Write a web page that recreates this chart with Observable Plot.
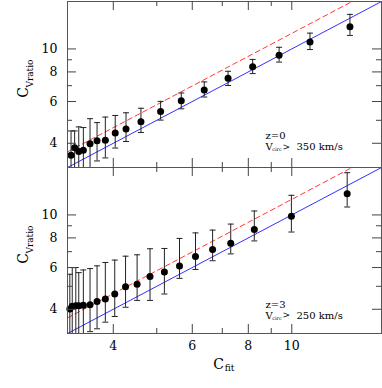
<!DOCTYPE html>
<html><head><meta charset="utf-8">
<script src="https://cdn.jsdelivr.net/npm/d3@7"></script>
<script src="https://cdn.jsdelivr.net/npm/@observablehq/plot@0.6"></script>
<style>html,body{margin:0;padding:0;background:#fff;} svg{display:block;}</style>
</head><body><div id="chart"></div>
<script>
const panels = ["z=0", "z=3"];
const xDomain = [3.162, 15.85];
const yDomain = [3.162, 15.85];
const majorTicks = [4, 6, 8, 10];
const minorTicks = [5, 7, 9];

// z=0 panel
const x0 = [3.22, 3.28, 3.35, 3.43, 3.55, 3.68, 3.84, 4.04, 4.27, 4.61, 5.10, 5.67, 6.38, 7.21, 8.18, 9.37, 10.98, 13.48];
const y0 = [3.56, 3.83, 3.69, 3.74, 3.98, 4.10, 4.12, 4.42, 4.59, 4.93, 5.45, 6.04, 6.71, 7.53, 8.41, 9.41, 10.70, 12.40];
const hi0 = [4.51, 4.51, 4.69, 4.66, 5.08, 4.89, 5.16, 5.24, 5.38, 5.62, 6.01, 6.52, 7.26, 8.05, 9.03, 10.16, 11.66, 13.99];
const lo0 = [2.61, 3.15, 2.69, 2.82, 2.88, 3.37, 3.47, 3.82, 4.07, 4.44, 5.01, 5.59, 6.27, 7.01, 7.87, 8.80, 9.94, 11.40];

// z=3 panel
const x3 = [3.20, 3.24, 3.30, 3.35, 3.43, 3.55, 3.68, 3.84, 4.03, 4.26, 4.52, 4.83, 5.20, 5.62, 6.10, 6.66, 7.31, 8.25, 9.98, 13.29];
const y3 = [4.01, 4.12, 4.14, 4.14, 4.16, 4.18, 4.31, 4.42, 4.64, 4.98, 5.10, 5.50, 5.75, 6.09, 6.68, 7.15, 7.59, 8.69, 9.88, 12.27];
const hi3 = [5.62, 6.00, 6.00, 5.71, 5.86, 5.94, 6.10, 6.30, 6.45, 6.70, 6.79, 7.20, 7.22, 7.96, 8.40, 8.63, 9.15, 10.39, 12.10, 15.07];
const lo3 = [2.50, 2.80, 2.80, 2.80, 2.90, 3.22, 3.31, 3.53, 3.73, 4.08, 4.36, 4.36, 4.64, 5.40, 5.89, 6.41, 6.85, 7.77, 8.47, 10.80];

// reference lines
const oneToOneX = [3.162, 15.85];
const oneToOneY = [3.162, 15.85];
const offsetX = [3.162, 15.85];
const offsetY = [3.68, 18.43];

const annotations = [
  {panel: "z=0", z: "z=0", v: "350 km/s"},
  {panel: "z=3", z: "z=3", v: "250 km/s"}
];

const rows = [];
x0.forEach((x, i) => rows.push({panel: "z=0", x, y: y0[i], lo: lo0[i], hi: hi0[i]}));
x3.forEach((x, i) => rows.push({panel: "z=3", x, y: y3[i], lo: lo3[i], hi: hi3[i]}));

const lineOne = [], lineOff = [];
panels.forEach(p => {
  oneToOneX.forEach((x, i) => lineOne.push({panel: p, x, y: oneToOneY[i]}));
  offsetX.forEach((x, i) => lineOff.push({panel: p, x, y: offsetY[i]}));
});

const W = 382, H = 388, mL = 67, mR = 1, mT = 1, mB = 55;
const innerW = W - mL - mR;
const facetH = (H - mT - mB) / 2;
const tickColor = "#444";
const serif = "DejaVu Serif";

const tickMarks = (vals, len) => [
  Plot.tickY(vals, {y: d => d, insetRight: innerW - len, stroke: tickColor}),
  Plot.tickY(vals, {y: d => d, insetLeft: innerW - len, stroke: tickColor}),
  Plot.tickX(vals, {x: d => d, insetBottom: facetH - len, stroke: tickColor}),
  Plot.tickX(vals, {x: d => d, insetTop: facetH - len, stroke: tickColor})
];

const capSymbol = {draw(ctx) { ctx.moveTo(-3, 0); ctx.lineTo(3, 0); }};
const labelRows = panels.map(p => ({panel: p}));
const topAnn = annotations.filter(a => a.panel === "z=0");
const botAnn = annotations.filter(a => a.panel === "z=3");

const annMarks = (data, dyZ, dyV) => [
  Plot.text(data, {fy: "panel", text: "z", frameAnchor: "bottom-right", textAnchor: "start", lineAnchor: "middle", dx: -116, dy: dyZ, fontSize: 10}),
  Plot.text(data, {fy: "panel", text: () => "V", frameAnchor: "bottom-right", textAnchor: "start", lineAnchor: "middle", dx: -116, dy: dyV, fontSize: 10}),
  Plot.text(data, {fy: "panel", text: () => "circ", frameAnchor: "bottom-right", textAnchor: "start", lineAnchor: "middle", dx: -109.3, dy: dyV + 2.5, fontSize: 5}),
  Plot.text(data, {fy: "panel", text: () => ">", frameAnchor: "bottom-right", textAnchor: "start", lineAnchor: "middle", dx: -99, dy: dyV, fontSize: 9}),
  Plot.text(data, {fy: "panel", text: "v", frameAnchor: "bottom-right", textAnchor: "start", lineAnchor: "middle", dx: -85, dy: dyV, fontSize: 10})
];

const chart = Plot.plot({
  width: W, height: H,
  marginLeft: mL, marginRight: mR, marginTop: mT, marginBottom: mB,
  style: {fontFamily: serif, fontSize: "12.5px", background: "white", color: "black"},
  x: {type: "log", domain: xDomain},
  y: {type: "log", domain: yDomain},
  fy: {domain: panels, padding: 0, axis: null, label: null},
  marks: [
    Plot.line(lineOne, {x: "x", y: "y", fy: "panel", stroke: "#1a1aff", strokeWidth: 0.9, clip: true}),
    Plot.line(lineOff, {x: "x", y: "y", fy: "panel", stroke: "#ff2020", strokeWidth: 0.9, strokeDasharray: "5,3.5", clip: true}),
    Plot.ruleX(rows, {x: "x", y1: "lo", y2: "hi", fy: "panel", stroke: "#222", strokeWidth: 1, clip: true}),
    Plot.dot(rows, {x: "x", y: "hi", fy: "panel", symbol: capSymbol, stroke: "#222", fill: "none", strokeWidth: 1, clip: true}),
    Plot.dot(rows, {x: "x", y: "lo", fy: "panel", symbol: capSymbol, stroke: "#222", fill: "none", strokeWidth: 1, clip: true}),
    Plot.dot(rows, {x: "x", y: "y", fy: "panel", r: 3.5, fill: "black", stroke: "none"}),
    Plot.frame({stroke: "#555", strokeWidth: 1}),
    ...tickMarks(majorTicks, 9),
    ...tickMarks(minorTicks, 5),
    Plot.axisY({ticks: majorTicks, tickFormat: d => String(d), tickSize: 0, tickPadding: 10, label: null, fontSize: 12.5}),
    Plot.axisX({ticks: majorTicks, tickFormat: d => String(d), tickSize: 0, tickPadding: 8, label: null, fontSize: 12.5}),
    Plot.text(labelRows, {fy: "panel", text: () => "C", frameAnchor: "left", dx: -44, dy: 8, rotate: -90, fontSize: 14, textAnchor: "middle", lineAnchor: "middle"}),
    Plot.text(labelRows, {fy: "panel", text: () => "Vratio", frameAnchor: "left", dx: -37, dy: -11, rotate: -90, fontSize: 9, textAnchor: "middle", lineAnchor: "middle"}),
    Plot.text([{panel: "z=3"}], {fy: "panel", text: () => "C", frameAnchor: "bottom", dx: -6, dy: 31, fontSize: 14, textAnchor: "middle", lineAnchor: "middle"}),
    Plot.text([{panel: "z=3"}], {fy: "panel", text: () => "fit", frameAnchor: "bottom", dx: 5, dy: 35, fontSize: 9, textAnchor: "middle", lineAnchor: "middle"}),
    ...annMarks(topAnn, -31.5, -20.3),
    ...annMarks(botAnn, -28.8, -18)
  ]
});
document.getElementById("chart").appendChild(chart);
</script>
</body></html>
